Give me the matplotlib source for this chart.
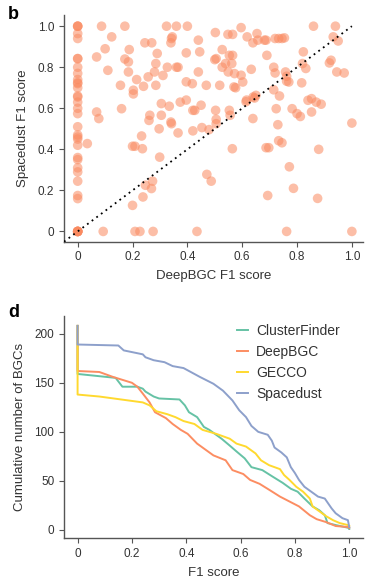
import matplotlib
matplotlib.use("Agg")
import matplotlib.pyplot as plt

plt.rcParams['font.family'] = ['Liberation Sans', 'DejaVu Sans']

# panel b: per-BGC F1 scores (DeepBGC vs Spacedust)
deepbgc_f1 = [
    0, 0, 0, 0, 0, 0, 0, 0, 0, 0, 0, 0, 0, 0, 0, 0, 0, 0, 0, 0, 0, 0, 0, 0, 0, 0, 0, 0, 0, 0,
    0, 0, 0, 0, 0, 0,
    0.087, 0.172, 0.324, 0.36, 0.40, 0.596, 0.86, 0.94,
    0.124, 0.10, 0.069, 0.11, 0.172, 0.188, 0.185, 0.185, 0.215, 0.24, 0.203, 0.203, 0.156, 0.16, 0.069, 0.077,
    0.245, 0.27, 0.342, 0.345, 0.34, 0.29, 0.285, 0.28, 0.257, 0.285, 0.311, 0.327, 0.36, 0.366, 0.396, 0.418,
    0.44, 0.445, 0.44, 0.396, 0.469, 0.518,
    0.502, 0.50, 0.505, 0.527, 0.539, 0.527, 0.553, 0.565, 0.562, 0.549, 0.572, 0.57, 0.576, 0.548, 0.565,
    0.618, 0.639, 0.654, 0.657, 0.681, 0.687, 0.596, 0.602, 0.633, 0.69, 0.715, 0.72, 0.72, 0.733, 0.745,
    0.754, 0.758, 0.762, 0.762, 0.77, 0.823, 0.82, 0.832, 0.817, 0.924, 0.918, 0.932, 0.95, 0.945, 0.972, 1.0,
    0.305, 0.334, 0.374, 0.396, 0.42, 0.427, 0.45, 0.503, 0.505, 0.553, 0.556, 0.616, 0.614, 0.64, 0.65,
    0.645, 0.736, 0.715, 0.724, 0.639, 0.782, 0.80, 0.812, 0.84, 0.853, 0.853, 0.87, 0.888, 0.263, 0.26,
    0.305, 0.34, 0.342, 0.297, 0.73,
    0.366, 0.42, 0.453, 0.479, 0.505,
    0.035, 0.20, 0.209, 0.233, 0.236, 0.299, 0.564, 0.687, 0.697, 0.772, 0.471, 0.487, 0.273, 0.269, 0.247,
    0.238, 0.20, 0.693, 0.787, 0.875, 0.733, 0.745, 0.879,
    0.093, 0.209, 0.227, 0.275, 0.435, 0.762, 1.0,
]
spacedust_f1 = [
    1.0, 1.0, 1.0, 0.964, 0.94, 0.842, 0.842, 0.80, 0.77, 0.74, 0.725, 0.72, 0.70, 0.66, 0.655, 0.63,
    0.60, 0.574, 0.51, 0.47, 0.45, 0.46, 0.42, 0.36, 0.35, 0.31, 0.29, 0.245, 0.175, 0.16,
    0, 0, 0, 0, 0, 0,
    1.0, 1.0, 1.0, 1.0, 1.0, 0.993, 1.0, 1.0,
    0.948, 0.89, 0.85, 0.785, 0.84, 0.886, 0.826, 0.777, 0.74, 0.707, 0.688, 0.67, 0.712, 0.598, 0.582, 0.55,
    0.919, 0.919, 0.94, 0.948, 0.919, 0.867, 0.818, 0.777, 0.753, 0.712, 0.76, 0.80, 0.80, 0.80, 0.729, 0.72,
    0.777, 0.875, 0.932, 0.87, 0.712, 0.712,
    0.969, 0.837, 0.842, 0.886, 0.818, 0.80, 0.858, 0.858, 0.818, 0.777, 0.769, 0.704, 0.70, 0.96, 0.96,
    0.948, 0.919, 0.964, 0.932, 0.932, 0.932, 0.761, 0.728, 0.79, 0.858, 0.80, 0.772, 0.94, 0.94, 0.94,
    0.943, 0.777, 0.756, 0.732, 0.728, 0.875, 0.818, 0.794, 0.724, 0.834, 0.821, 0.948, 0.928, 0.777, 0.772, 0.528,
    0.623, 0.61, 0.63, 0.64, 0.59, 0.59, 0.615, 0.59, 0.546, 0.59, 0.566, 0.64, 0.632, 0.655, 0.663,
    0.65, 0.66, 0.69, 0.598, 0.55, 0.598, 0.574, 0.56, 0.639, 0.647, 0.582, 0.63, 0.62, 0.566, 0.541,
    0.566, 0.533, 0.525, 0.50, 0.52,
    0.48, 0.49, 0.506, 0.496, 0.525,
    0.428, 0.415, 0.415, 0.465, 0.403, 0.362, 0.403, 0.408, 0.408, 0.315, 0.278, 0.245, 0.245, 0.209, 0.225,
    0.168, 0.127, 0.175, 0.21, 0.161, 0.442, 0.432, 0.40,
    0, 0, 0, 0, 0, 0, 0,
]

# panel d: cumulative number of BGCs with F1 >= threshold
cf_x = [0, 0, 0.14, 0.165, 0.22, 0.24, 0.25, 0.28, 0.30, 0.375, 0.395, 0.41, 0.44, 0.465, 0.485, 0.53,
        0.56, 0.585, 0.615, 0.64, 0.68, 0.72, 0.755, 0.785, 0.81, 0.835, 0.865, 0.89, 0.91, 0.92, 0.95, 1.0, 1.0]
cf_y = [208, 159, 155, 146, 146, 144, 141, 136, 134, 133, 127, 120, 115, 105, 102, 93,
        86, 80, 73, 64, 61, 54, 48, 42, 39, 32, 24, 20, 15, 7, 5, 2, 1]
deep_x = [0, 0, 0.08, 0.13, 0.165, 0.20, 0.22, 0.24, 0.265, 0.285, 0.325, 0.35, 0.38, 0.405, 0.44, 0.50,
          0.545, 0.57, 0.61, 0.635, 0.67, 0.705, 0.745, 0.78, 0.815, 0.855, 0.88, 0.915, 0.95, 0.995, 1.0]
deep_y = [208, 162, 161, 156, 153, 150, 146, 139, 130, 120, 114, 108, 102, 98, 88, 76,
          71, 61, 57, 51, 47, 41, 34, 29, 24, 15, 11, 8, 4, 3, 2]
gecco_x = [0, 0, 0.08, 0.16, 0.24, 0.265, 0.29, 0.33, 0.36, 0.39, 0.43, 0.46, 0.51, 0.56, 0.585, 0.62,
           0.655, 0.675, 0.705, 0.745, 0.76, 0.78, 0.805, 0.83, 0.855, 0.865, 0.89, 0.915, 0.94, 0.965, 0.995, 1.0]
gecco_y = [208, 138, 136, 133, 130, 127, 121, 118, 115, 111, 108, 102, 98, 93, 88, 85,
           78, 71, 66, 62, 56, 51, 44, 39, 32, 24, 19, 14, 10, 7, 5, 4]
sd_x = [0, 0, 0.15, 0.17, 0.24, 0.25, 0.28, 0.32, 0.35, 0.39, 0.41, 0.45, 0.50, 0.535, 0.57, 0.595,
        0.62, 0.64, 0.665, 0.70, 0.715, 0.725, 0.75, 0.77, 0.785, 0.80, 0.815, 0.835, 0.86, 0.885, 0.91,
        0.935, 0.95, 0.975, 0.995, 1.0]
sd_y = [208, 189, 188, 183, 179, 176, 173, 171, 167, 165, 162, 156, 149, 142, 132, 122,
        115, 106, 100, 97, 91, 84, 79, 74, 64, 58, 51, 44, 39, 34, 32,
        22, 17, 12, 10, 3]

tools = ['ClusterFinder', 'DeepBGC', 'GECCO', 'Spacedust']
colors = ['#66c2a5', '#fc8d62', '#ffd92f', '#8da0cb']

fig = plt.figure(figsize=(3.71, 5.81), dpi=100)
ax1 = fig.add_axes([0.1725, 0.584, 0.8055, 0.39])
ax2 = fig.add_axes([0.1725, 0.0735, 0.8055, 0.3825])

spine_col = '#555555'
text_col = '#333333'


def style(ax):
    for s in ['top', 'right']:
        ax.spines[s].set_visible(False)
    for s in ['left', 'bottom']:
        ax.spines[s].set_color(spine_col)
        ax.spines[s].set_linewidth(1.0)
    ax.tick_params(axis='both', direction='out', length=3.5, width=0.8, color=spine_col,
                   labelsize=8.5, labelcolor=text_col, pad=3.5)


# scatter
ax1.scatter(deepbgc_f1, spacedust_f1, s=48, color='#fa8a60', alpha=0.55, edgecolors='none', zorder=2)
ax1.plot([-0.05, 1.0], [-0.05, 1.0], linestyle=(0, (1, 2.2)), color='black', linewidth=1.3, zorder=3)
ax1.set_xlim(-0.05, 1.04)
ax1.set_ylim(-0.05, 1.054)
ax1.set_xticks([0, 0.2, 0.4, 0.6, 0.8, 1.0])
ax1.set_xticklabels(['0', '0.2', '0.4', '0.6', '0.8', '1.0'])
ax1.set_yticks([0, 0.2, 0.4, 0.6, 0.8, 1.0])
ax1.set_yticklabels(['0', '0.2', '0.4', '0.6', '0.8', '1.0'])
ax1.set_xlabel('DeepBGC F1 score', fontsize=9.5, color=text_col, labelpad=5)
ax1.set_ylabel('Spacedust F1 score', fontsize=9.5, color=text_col, labelpad=6)
style(ax1)

# cumulative curves
series = [(cf_x, cf_y), (deep_x, deep_y), (gecco_x, gecco_y), (sd_x, sd_y)]
for (xs, ys), name, c in zip(series, tools, colors):
    ax2.plot(xs, ys, color=c, linewidth=1.4, label=name)
ax2.set_xlim(-0.05, 1.05)
ax2.set_ylim(-8.5, 218)
ax2.set_xticks([0, 0.2, 0.4, 0.6, 0.8, 1.0])
ax2.set_xticklabels(['0', '0.2', '0.4', '0.6', '0.8', '1.0'])
ax2.set_yticks([0, 50, 100, 150, 200])
ax2.set_xlabel('F1 score', fontsize=9.5, color=text_col, labelpad=5)
ax2.set_ylabel('Cumulative number of BGCs', fontsize=9.5, color=text_col, labelpad=6)
ax2.legend(loc='upper left', bbox_to_anchor=(0.56, 0.99), frameon=False, fontsize=10,
           handlelength=0.8, handletextpad=0.6, labelspacing=0.5, labelcolor=text_col,
           borderaxespad=0)
style(ax2)

fig.text(0.022, 0.975, 'b', fontsize=13, fontweight='bold', va='center', ha='left')
fig.text(0.022, 0.462, 'd', fontsize=13, fontweight='bold', va='center', ha='left')

fig.savefig('out.png', dpi=100)
